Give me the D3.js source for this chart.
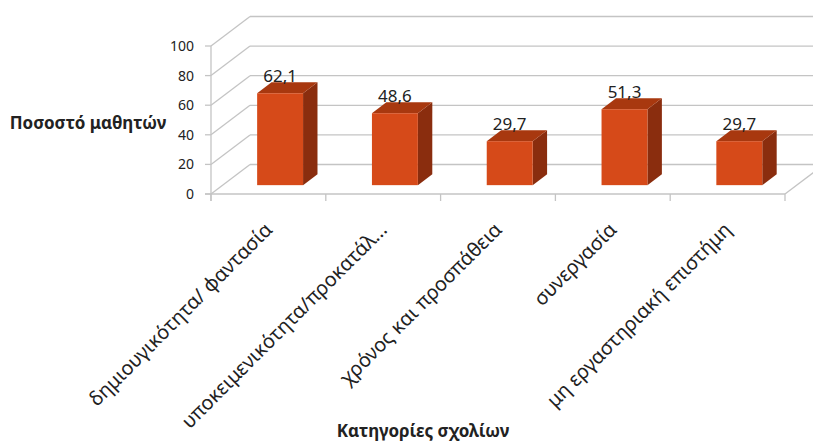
<!DOCTYPE html>
<html>
<head>
<meta charset="utf-8">
<script src="https://cdn.jsdelivr.net/npm/d3@7"></script>
<style>
  body { margin: 0; background: #fff; }
  text { font-family: "Noto Sans", "Open Sans", sans-serif; fill: #222; }
</style>
</head>
<body>
<script>
const w = 813;
const h = 444;

// data
const categories = [
  "δημιουγικότητα/ φαντασία",
  "υποκειμενικότητα/προκατάλ...",
  "χρόνος και προσπάθεια",
  "συνεργασία",
  "μη εργαστηριακή επιστήμη"
];
const values = [62.1, 48.6, 29.7, 51.3, 29.7];
const valueLabels = ["62,1", "48,6", "29,7", "51,3", "29,7"];
const yTicks = [0, 20, 40, 60, 80, 100];

// 3d depth offset
const dx = 39;
const dy = -29.5;
const f0 = 0.3, f1 = 0.67;

const svg = d3.select("body").append("svg").attr("width", w).attr("height", h);

const x = d3.scaleBand().domain(categories).range([211, 785]);
const y = d3.scaleLinear().domain([0, 100]).range([194, 46]);

const grid = "#c4c4c4";

// back wall gridlines
svg.append("g")
  .selectAll("line")
  .data(yTicks)
  .join("line")
  .attr("x1", 211 + dx)
  .attr("x2", 785 + dx)
  .attr("y1", (d) => y(d) + dy)
  .attr("y2", (d) => y(d) + dy)
  .attr("stroke", grid)
  .attr("stroke-width", 1.3);

// side wall diagonals
svg.append("g")
  .selectAll("line")
  .data(yTicks)
  .join("line")
  .attr("x1", 211)
  .attr("x2", 211 + dx)
  .attr("y1", (d) => y(d))
  .attr("y2", (d) => y(d) + dy)
  .attr("stroke", grid)
  .attr("stroke-width", 1.3);

// floor front + right edge
svg.append("line")
  .attr("x1", 205).attr("x2", 785)
  .attr("y1", y(0)).attr("y2", y(0))
  .attr("stroke", grid).attr("stroke-width", 1.3);
svg.append("line")
  .attr("x1", 785).attr("x2", 785 + dx)
  .attr("y1", y(0)).attr("y2", y(0) + dy)
  .attr("stroke", grid).attr("stroke-width", 1.3);

// y axis line
svg.append("line")
  .attr("x1", 211).attr("x2", 211)
  .attr("y1", y(100)).attr("y2", y(0) + 7)
  .attr("stroke", grid).attr("stroke-width", 1.3);

// y ticks
svg.append("g")
  .selectAll("line")
  .data(yTicks)
  .join("line")
  .attr("x1", 205).attr("x2", 211)
  .attr("y1", (d) => y(d)).attr("y2", (d) => y(d))
  .attr("stroke", grid).attr("stroke-width", 1.3);

svg.append("g")
  .selectAll("text")
  .data(yTicks)
  .join("text")
  .attr("x", 194)
  .attr("y", (d) => y(d) + 5)
  .attr("text-anchor", "end")
  .attr("font-size", 14)
  .text((d) => d);

// category ticks
const bounds = categories.map((c) => x(c)).concat([785]);
svg.append("g")
  .selectAll("line")
  .data(bounds)
  .join("line")
  .attr("x1", (d) => d).attr("x2", (d) => d)
  .attr("y1", y(0)).attr("y2", y(0) + 7)
  .attr("stroke", grid).attr("stroke-width", 1.3);

// bars
const bw = x.bandwidth() * 0.4;
const bars = svg.append("g")
  .selectAll("g")
  .data(categories.map((c, i) => ({ c, v: values[i], l: valueLabels[i] })))
  .join("g");

function face(d) {
  const cx = x(d.c) + x.bandwidth() / 2 + f0 * dx;
  const x0 = cx - bw / 2, x1 = cx + bw / 2;
  const yb = y(0) + f0 * dy, yt = y(d.v) + f0 * dy;
  const ddx = (f1 - f0) * dx, ddy = (f1 - f0) * dy;
  return { x0, x1, yb, yt, ddx, ddy, cx };
}

bars.append("path")
  .attr("fill", "#8a2d0e")
  .attr("d", (d) => {
    const f = face(d);
    return `M${f.x1},${f.yb}L${f.x1 + f.ddx},${f.yb + f.ddy}L${f.x1 + f.ddx},${f.yt + f.ddy}L${f.x1},${f.yt}Z`;
  });
bars.append("path")
  .attr("fill", "#a8380f")
  .attr("d", (d) => {
    const f = face(d);
    return `M${f.x0},${f.yt}L${f.x1},${f.yt}L${f.x1 + f.ddx},${f.yt + f.ddy}L${f.x0 + f.ddx},${f.yt + f.ddy}Z`;
  });
bars.append("rect")
  .attr("fill", "#d64a19")
  .attr("x", (d) => face(d).x0)
  .attr("y", (d) => face(d).yt)
  .attr("width", bw)
  .attr("height", (d) => face(d).yb - face(d).yt);

bars.append("text")
  .attr("x", (d) => face(d).cx)
  .attr("y", (d) => face(d).yt - 11)
  .attr("text-anchor", "middle")
  .attr("font-size", 17)
  .text((d) => d.l);

// category labels
svg.append("g")
  .selectAll("text")
  .data(categories)
  .join("text")
  .attr("transform", (d) => `translate(${x(d) + x.bandwidth() / 2 + 5},${y(0) + 37}) rotate(-45)`)
  .attr("text-anchor", "end")
  .attr("font-size", 19.8)
  .text((d) => d);

// axis titles
svg.append("text")
  .attr("x", 88).attr("y", 129)
  .attr("text-anchor", "middle")
  .attr("font-size", 17)
  .attr("font-weight", "bold")
  .text("Ποσοστό μαθητών");

svg.append("text")
  .attr("x", 423).attr("y", 437)
  .attr("text-anchor", "middle")
  .attr("font-size", 17)
  .attr("font-weight", "bold")
  .text("Κατηγορίες σχολίων");
</script>
</body>
</html>
